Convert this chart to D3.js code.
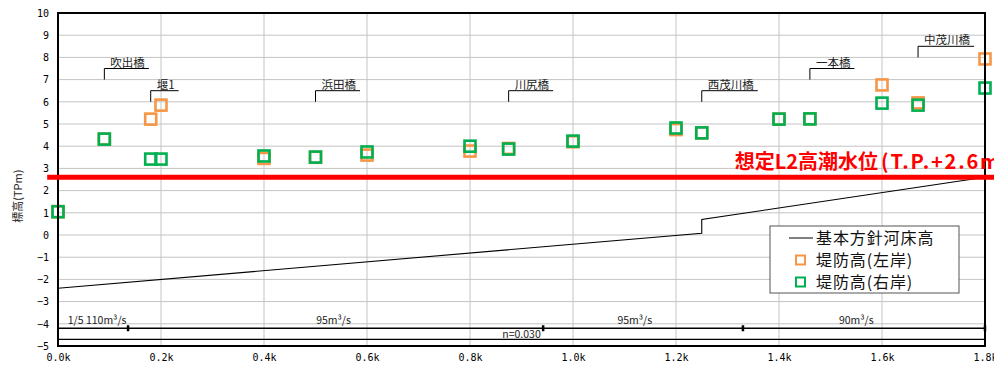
<!DOCTYPE html>
<html>
<head>
<meta charset="utf-8">
<script src="https://cdn.jsdelivr.net/npm/d3@7"></script>
<style>
  body { margin: 0; background: #fff; }
  svg { display: block; }
  .tick text { font-family: "DejaVu Sans Mono", monospace; font-size: 10px; fill: #000; }
  .jp { font-family: "Noto Sans CJK JP", sans-serif; }
</style>
</head>
<body>
<div id="chart"></div>
<script>
// Survey points (distance in km)
var distances = [0, 0.09, 0.18, 0.2, 0.4, 0.5, 0.6, 0.8, 0.875, 1.0, 1.2, 1.25, 1.4, 1.46, 1.6, 1.67, 1.8];
var leftBank  = [1.05, 4.32, 5.22, 5.85, 3.45, 3.5, 3.6, 3.78, 3.9, 4.2, 4.75, 4.6, 5.22, 5.23, 6.76, 5.95, 7.93];
var rightBank = [1.05, 4.32, 3.42, 3.42, 3.56, 3.51, 3.74, 4.0, 3.87, 4.23, 4.82, 4.6, 5.22, 5.23, 5.94, 5.85, 6.62];

// Planned riverbed
var bedDist  = [0, 1.25, 1.25, 1.8];
var bedLevel = [-2.4, 0.08, 0.7, 2.6];

// Bridges
var bridgeNames = ["吹出橋", "堰1", "浜田橋", "川尻橋", "西茂川橋", "一本橋", "中茂川橋"];
var bridgeDist  = [0.09, 0.18, 0.5, 0.875, 1.25, 1.46, 1.67];
var bridgeLevel = [7, 6, 6, 6, 6, 7, 8];

// Discharge / roughness strip
var flowBreaks = [0.136, 0.942, 1.33, 1.8];
var flowLabels = ["1/5 110m³/s", "95m³/s", "95m³/s", "90m³/s"];
var flowLabelDist = [0.076, 0.535, 1.12, 1.55];
var flowLevel = -4.2;
var roughLabel = "n=0.030";
var roughLevel = -4.7;

var surgeLevel = 2.6;
var surgeLabelJp = "想定L2高潮水位";
var surgeLabelTp = "(T.P.+2.6m";

var xTicks = [0, 0.2, 0.4, 0.6, 0.8, 1.0, 1.2, 1.4, 1.6, 1.8];
var yTicks = d3.range(-5, 11);

var svgWidth = 994;
var svgHeight = 366;
var margin = { top: 13, right: 9, bottom: 20, left: 58 };

var svg = d3.select("#chart").append("svg")
    .attr("width", svgWidth)
    .attr("height", svgHeight);

var x = d3.scaleLinear().domain([0, 1.8]).range([margin.left, svgWidth - margin.right]);
var y = d3.scaleLinear().domain([-5, 10]).range([svgHeight - margin.bottom, margin.top]);

// Grid
svg.append("g").selectAll("line.h")
    .data(yTicks).enter().append("line")
    .attr("x1", x(0)).attr("x2", x(1.8))
    .attr("y1", d => y(d)).attr("y2", d => y(d))
    .attr("stroke", "#c4c4c4").attr("stroke-width", 1);
svg.append("g").selectAll("line.v")
    .data(xTicks).enter().append("line")
    .attr("x1", d => x(d)).attr("x2", d => x(d))
    .attr("y1", y(10)).attr("y2", y(-5))
    .attr("stroke", "#c4c4c4").attr("stroke-width", 1);

// Axes
svg.append("g")
    .attr("transform", `translate(${x(0)},0)`)
    .call(d3.axisLeft(y).tickValues(yTicks).tickSize(0).tickPadding(9))
    .call(g => g.select(".domain").remove());
svg.append("g")
    .attr("transform", `translate(0,${y(-5)})`)
    .call(d3.axisBottom(x).tickValues(xTicks).tickSize(0).tickPadding(8).tickFormat(d => d.toFixed(1) + "k"))
    .call(g => g.select(".domain").remove());

// Discharge strip
svg.append("line")
    .attr("x1", x(0)).attr("x2", x(1.8))
    .attr("y1", y(flowLevel)).attr("y2", y(flowLevel))
    .attr("stroke", "#000").attr("stroke-width", 1.3);
svg.append("line")
    .attr("x1", x(0)).attr("x2", x(1.8))
    .attr("y1", y(roughLevel)).attr("y2", y(roughLevel))
    .attr("stroke", "#000").attr("stroke-width", 1.3);
svg.append("g").selectAll("line")
    .data(flowBreaks).enter().append("line")
    .attr("x1", d => x(d)).attr("x2", d => x(d))
    .attr("y1", y(flowLevel) - 3).attr("y2", y(flowLevel) + 3)
    .attr("stroke", "#000").attr("stroke-width", 2.5);
svg.append("g").selectAll("text")
    .data(flowLabels).enter().append("text")
    .attr("class", "jp")
    .attr("x", (d, i) => x(flowLabelDist[i]))
    .attr("y", y(flowLevel) - 4)
    .attr("text-anchor", "middle")
    .attr("font-size", "10.5px")
    .attr("fill", "#222")
    .text(d => d);
svg.append("text")
    .attr("class", "jp")
    .attr("x", x(0.9))
    .attr("y", y(roughLevel) - 1)
    .attr("text-anchor", "middle")
    .attr("font-size", "10.5px")
    .attr("fill", "#222")
    .text(roughLabel);

// Riverbed line
var bedPoints = bedDist.map((d, i) => [d, bedLevel[i]]);
svg.append("path")
    .datum(bedPoints)
    .attr("fill", "none")
    .attr("stroke", "#000")
    .attr("stroke-width", 1.1)
    .attr("d", d3.line().x(d => x(d[0])).y(d => y(d[1])));

// Bridge brackets
var bridges = svg.append("g").selectAll("g")
    .data(bridgeNames).enter().append("g");
bridges.append("text")
    .attr("class", "jp")
    .attr("x", (d, i) => x(bridgeDist[i]) + 6)
    .attr("y", (d, i) => y(bridgeLevel[i] + 0.5) - 2)
    .attr("font-size", "11.5px")
    .attr("fill", "#222")
    .text(d => d);
bridges.each(function(d, i) {
    var g = d3.select(this);
    var w = g.select("text").node().getComputedTextLength();
    var x0 = x(bridgeDist[i]);
    g.append("path")
        .attr("fill", "none")
        .attr("stroke", "#000")
        .attr("stroke-width", 1)
        .attr("d", `M${x0},${y(bridgeLevel[i])}V${y(bridgeLevel[i] + 0.5)}H${x0 + w + 10}`);
});

// Markers
var sq = 11;
svg.append("g").selectAll("rect")
    .data(distances).enter().append("rect")
    .attr("x", d => x(d) - sq / 2)
    .attr("y", (d, i) => y(leftBank[i]) - sq / 2)
    .attr("width", sq).attr("height", sq)
    .attr("fill", "none").attr("stroke", "#F79646").attr("stroke-width", 2.6);
svg.append("g").selectAll("rect")
    .data(distances).enter().append("rect")
    .attr("x", d => x(d) - sq / 2)
    .attr("y", (d, i) => y(rightBank[i]) - sq / 2)
    .attr("width", sq).attr("height", sq)
    .attr("fill", "none").attr("stroke", "#00B050").attr("stroke-width", 2.6);

// Plot frame
svg.append("rect")
    .attr("x", x(0)).attr("y", y(10))
    .attr("width", x(1.8) - x(0)).attr("height", y(-5) - y(10))
    .attr("fill", "none").attr("stroke", "#000").attr("stroke-width", 2);

// Surge level line and label
svg.append("line")
    .attr("x1", x(-0.021)).attr("x2", svgWidth)
    .attr("y1", y(surgeLevel)).attr("y2", y(surgeLevel))
    .attr("stroke", "#ff0000").attr("stroke-width", 5);
var surgeText = svg.append("text")
    .attr("class", "jp")
    .attr("x", x(1.314))
    .attr("y", y(surgeLevel) - 8)
    .attr("font-size", "20px")
    .attr("font-weight", "bold")
    .attr("fill", "#ff0000");
surgeText.append("tspan").text(surgeLabelJp);
surgeText.append("tspan")
    .attr("dx", 3)
    .attr("letter-spacing", "1.8px")
    .text(surgeLabelTp);

// Y axis title
svg.append("text")
    .attr("class", "jp")
    .attr("transform", `translate(22,${y(1.75)}) rotate(-90)`)
    .attr("text-anchor", "middle")
    .attr("font-size", "11px")
    .attr("fill", "#222")
    .text("標高(TPm)");

// Legend
var legend = svg.append("g").attr("transform", "translate(770,226)");
legend.append("rect")
    .attr("width", 189).attr("height", 67)
    .attr("fill", "#fff").attr("stroke", "#555").attr("stroke-width", 1);
var legendItems = [
    { label: "基本方針河床高", type: "line", color: "#000" },
    { label: "堤防高(左岸)", type: "rect", color: "#F79646" },
    { label: "堤防高(右岸)", type: "rect", color: "#00B050" }
];
legendItems.forEach(function(item, i) {
    var cy = 12 + i * 22;
    if (item.type === "line") {
        legend.append("line")
            .attr("x1", 19).attr("x2", 43)
            .attr("y1", cy).attr("y2", cy)
            .attr("stroke", item.color).attr("stroke-width", 1);
    } else {
        legend.append("rect")
            .attr("x", 26).attr("y", cy - 4.5)
            .attr("width", 9).attr("height", 9)
            .attr("fill", "none").attr("stroke", item.color).attr("stroke-width", 2);
    }
    legend.append("text")
        .attr("class", "jp")
        .attr("x", 46)
        .attr("y", cy)
        .attr("dy", "0.36em")
        .attr("font-size", "16px")
        .attr("letter-spacing", "0.9px")
        .attr("fill", "#111")
        .text(item.label);
});
</script>
</body>
</html>
